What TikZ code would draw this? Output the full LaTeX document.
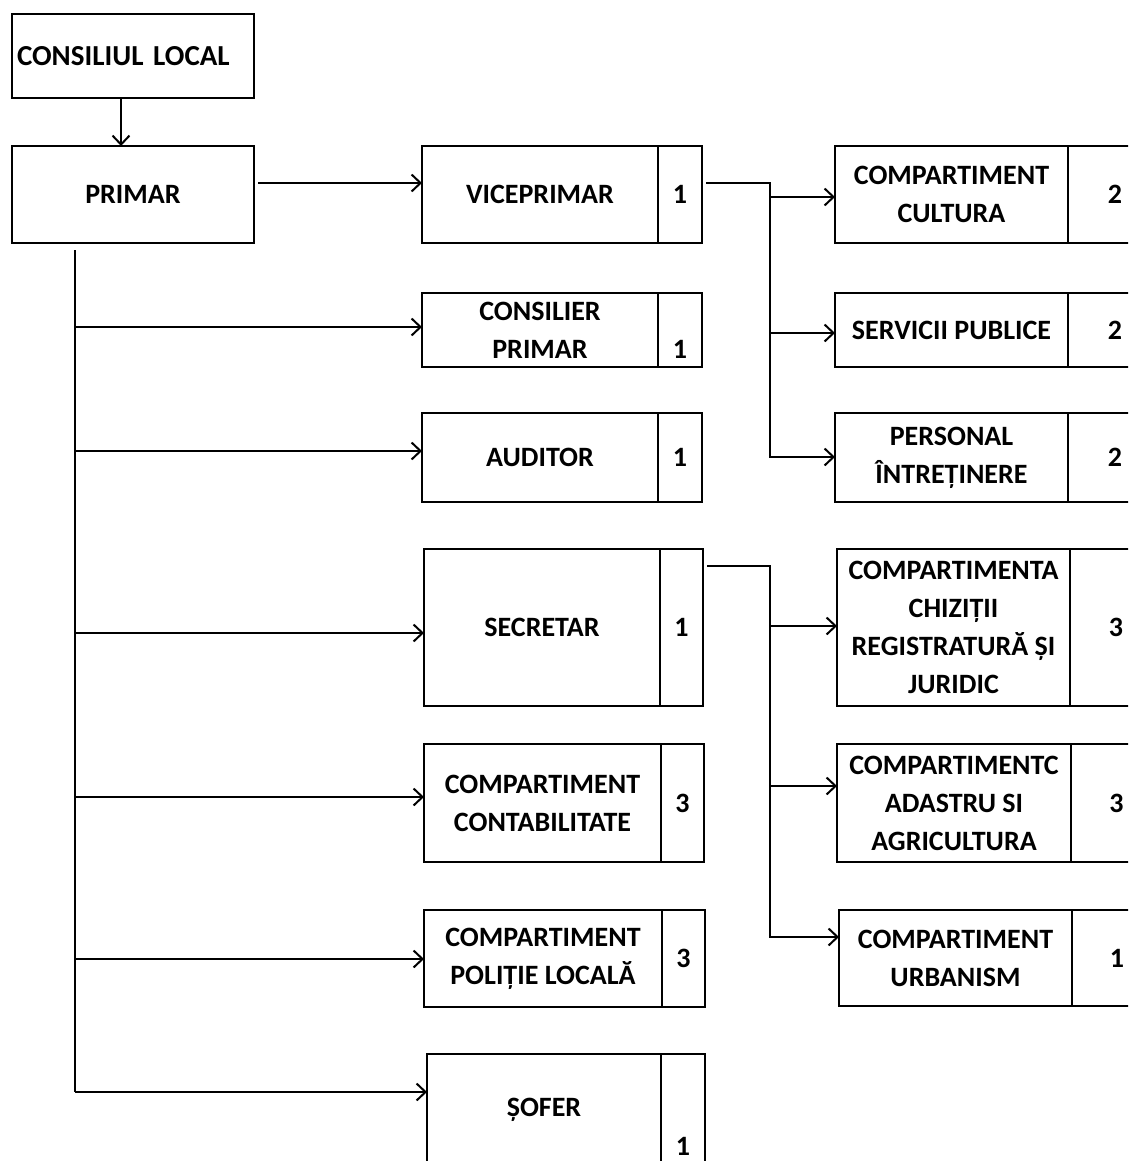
\documentclass[tikz,border=0pt]{standalone}
\usepackage{fontspec}
\setmainfont{Carlito}
\usetikzlibrary{arrows.meta}
\begin{document}
\begin{tikzpicture}[x=1pt,y=-1pt,
  box/.style={draw, line width=2.6pt, inner sep=0pt, outer sep=0pt, align=center,
    font=\bfseries\fontsize{28}{38}\selectfont},
  txt/.style={inner sep=0pt, font=\bfseries\fontsize{28}{38}\selectfont},
  conn/.style={line width=2pt},
  arr/.style={line width=2pt, -{Straight Barb[length=9pt,width=17pt,line width=2pt]}}]
\useasboundingbox (0,0) rectangle (1128,1161);
\clip (0,0) rectangle (1128,1161);
% top
\node[box, minimum width=242, minimum height=84, text width=232, align=left,
  font=\bfseries\fontsize{29}{38}\selectfont] (cl) at (133,56) {CONSILIUL LOCAL};
\node[box, minimum width=242, minimum height=97] (primar) at (133,194.5) {PRIMAR};
% left column
\node[box, minimum width=236, minimum height=97] (vice) at (540,194.5) {VICEPRIMAR};
\node[box, minimum width=44, minimum height=97, anchor=west] (vicen) at (vice.east) {1};
\node[box, minimum width=236, minimum height=74] (cons) at (540,330) {CONSILIER\\PRIMAR};
\node[box, minimum width=44, minimum height=74, anchor=west] (consn) at (cons.east) {};
\node[txt] (consnum) at ([yshift=-19pt]consn.center) {1};
\node[box, minimum width=236, minimum height=89] (aud) at (540,457.5) {AUDITOR};
\node[box, minimum width=44, minimum height=89, anchor=west] (audn) at (aud.east) {1};
\node[box, minimum width=236, minimum height=157] (sec) at (542,627.5) {SECRETAR};
\node[box, minimum width=43, minimum height=157, anchor=west] (secn) at (sec.east) {1};
\node[box, minimum width=237, minimum height=118] (cont) at (542.5,803) {COMPARTIMENT\\CONTABILITATE};
\node[box, minimum width=43, minimum height=118, anchor=west] (contn) at (cont.east) {3};
\node[box, minimum width=238, minimum height=97] (pol) at (543,958.5) {COMPARTIMENT\\POLIȚIE LOCALĂ};
\node[box, minimum width=43, minimum height=97, anchor=west] (poln) at (pol.east) {3};
\node[box, minimum width=234, minimum height=112] (sof) at (544,1110) {ȘOFER};
\node[box, minimum width=44, minimum height=112, anchor=west] (sofn) at (sof.east) {};
\node[txt] (sofnum) at ([yshift=-36pt]sofn.center) {1};
% right column
\node[box, minimum width=233, minimum height=97] (cult) at (951.5,194.5) {COMPARTIMENT\\CULTURA};
\node[box, minimum width=94, minimum height=97, anchor=west] (cultn) at (cult.east) {2};
\node[box, minimum width=233, minimum height=74] (serv) at (951.5,330) {SERVICII PUBLICE};
\node[box, minimum width=94, minimum height=74, anchor=west] (servn) at (serv.east) {2};
\node[box, minimum width=233, minimum height=89] (pers) at (951.5,457.5) {PERSONAL\\ÎNTREȚINERE};
\node[box, minimum width=94, minimum height=89, anchor=west] (persn) at (pers.east) {2};
\node[box, minimum width=233, minimum height=157] (achiz) at (953.5,627.5) {COMPARTIMENTA\\CHIZIȚII\\REGISTRATURĂ ȘI\\JURIDIC};
\node[box, minimum width=92, minimum height=157, anchor=west] (achizn) at (achiz.east) {3};
\node[box, minimum width=234, minimum height=118] (cad) at (954,803) {COMPARTIMENTC\\ADASTRU SI\\AGRICULTURA};
\node[box, minimum width=91, minimum height=118, anchor=west] (cadn) at (cad.east) {3};
\node[box, minimum width=233, minimum height=96] (urb) at (955.5,958) {COMPARTIMENT\\URBANISM};
\node[box, minimum width=90, minimum height=96, anchor=west] (urbn) at (urb.east) {1};
% connectors
\draw[arr] ([xshift=-12pt]cl.south) -- ([xshift=-12pt]primar.north);
\draw[arr] ([xshift=4pt]primar.east |- 0,183) -- (vice.west |- 0,183);
\coordinate (ttop) at (75,250);
\coordinate (tbot) at (75,1092);
\draw[conn] (ttop) -- (tbot);
\draw[arr] (ttop |- 0,327) -- (cons.west |- 0,327);
\draw[arr] (ttop |- 0,451) -- (aud.west |- 0,451);
\draw[arr] (ttop |- 0,633) -- (sec.west |- 0,633);
\draw[arr] (ttop |- 0,797) -- (cont.west |- 0,797);
\draw[arr] (ttop |- 0,959) -- (pol.west |- 0,959);
\draw[arr] (tbot) -- (sof.west |- tbot);
% viceprimar branch
\coordinate (vb) at (770,183);
\draw[arr] ([xshift=4pt]vicen.east |- vb) -- (vb) -- (vb |- 0,457) -- (pers.west |- 0,457);
\draw[arr] (vb |- 0,197) -- (cult.west |- 0,197);
\draw[arr] (vb |- 0,333) -- (serv.west |- 0,333);
% secretar branch
\coordinate (sb) at (770,566);
\draw[arr] ([xshift=4pt]secn.east |- sb) -- (sb) -- (sb |- 0,937) -- (urb.west |- 0,937);
\draw[arr] (sb |- 0,626) -- (achiz.west |- 0,626);
\draw[arr] (sb |- 0,786) -- (cad.west |- 0,786);
\end{tikzpicture}
\end{document}
